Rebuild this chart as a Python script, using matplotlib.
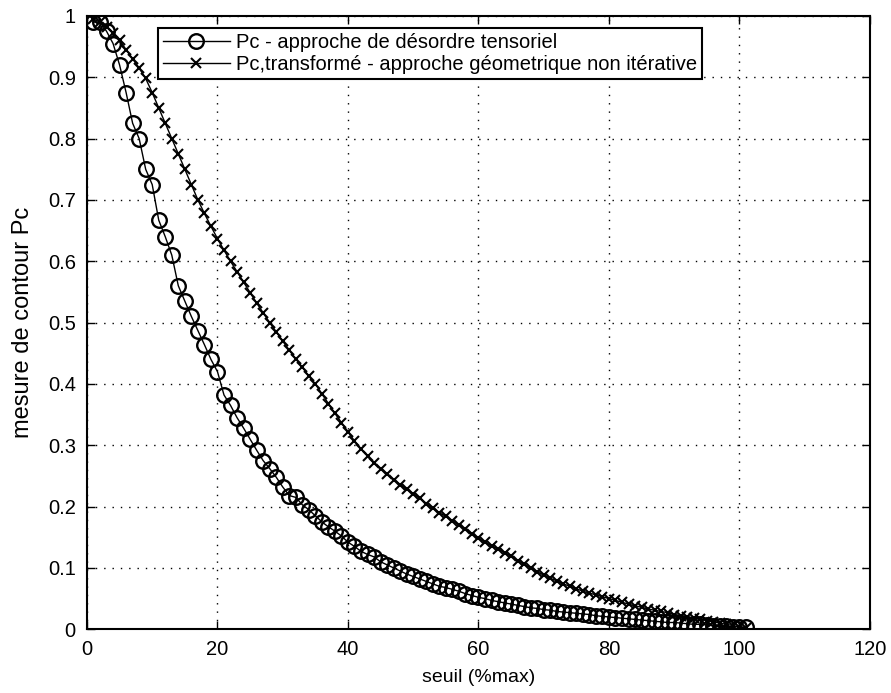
import numpy as np
import matplotlib
matplotlib.use("Agg")
import matplotlib.pyplot as plt

plt.rcParams["font.family"] = ["Liberation Sans", "DejaVu Sans"]

# seuil (%max)
seuil = list(range(1, 102))

# Pc - approche de desordre tensoriel
pc = [0.99, 0.99, 0.975, 0.955, 0.92, 0.875, 0.825, 0.80, 0.75, 0.725,
      0.667, 0.64, 0.61, 0.56, 0.535, 0.51, 0.487, 0.464, 0.44, 0.42,
      0.382, 0.365, 0.345, 0.328, 0.31, 0.292, 0.275, 0.262, 0.248, 0.232,
      0.218, 0.215, 0.203, 0.195, 0.185, 0.175, 0.167, 0.16, 0.152, 0.142,
      0.135, 0.127, 0.122, 0.118, 0.11, 0.105, 0.1, 0.095, 0.09, 0.086,
      0.082, 0.078, 0.074, 0.07, 0.068, 0.065, 0.062, 0.058, 0.055, 0.052,
      0.05, 0.047, 0.045, 0.043, 0.041, 0.039, 0.037, 0.035, 0.034, 0.032,
      0.031, 0.029, 0.028, 0.027, 0.026, 0.025, 0.024, 0.022, 0.021, 0.02,
      0.019, 0.018, 0.017, 0.016, 0.015, 0.014, 0.013, 0.012, 0.011, 0.011,
      0.01, 0.009, 0.008, 0.008, 0.007, 0.006, 0.005, 0.005, 0.004, 0.004,
      0.003]

# Pc,transforme - approche geometrique non iterative
pc_geo = [0.995, 0.99, 0.982, 0.972, 0.96, 0.945, 0.93, 0.915, 0.898, 0.875,
          0.85, 0.825, 0.80, 0.775, 0.75, 0.725, 0.70, 0.678, 0.657, 0.637,
          0.618, 0.60, 0.583, 0.566, 0.549, 0.532, 0.516, 0.50, 0.485, 0.47,
          0.455, 0.441, 0.427, 0.413, 0.40, 0.384, 0.368, 0.352, 0.337, 0.322,
          0.307, 0.294, 0.282, 0.271, 0.262, 0.253, 0.244, 0.236, 0.228, 0.221,
          0.214, 0.205, 0.197, 0.19, 0.184, 0.177, 0.17, 0.163, 0.156, 0.148,
          0.142, 0.136, 0.131, 0.125, 0.119, 0.112, 0.106, 0.1, 0.094, 0.088,
          0.083, 0.079, 0.074, 0.07, 0.066, 0.062, 0.059, 0.056, 0.053, 0.05,
          0.047, 0.044, 0.041, 0.038, 0.036, 0.033, 0.031, 0.029, 0.027, 0.024,
          0.022, 0.02, 0.018, 0.016, 0.014, 0.012, 0.01, 0.008, 0.006, 0.004,
          0.002]

fig = plt.figure(figsize=(8.91, 6.93), dpi=100)
ax = fig.add_axes([0.0976, 0.092, 0.8788, 0.885])

ax.plot(seuil, pc, "-o", color="black", lw=1, ms=10.5, mfc="none", mew=1.7,
        label="Pc - approche de désordre tensoriel")
ax.plot(seuil, pc_geo, "-x", color="black", lw=1, ms=7.5, mew=1.5,
        label="Pc,transformé - approche géometrique non itérative")

ax.set_xlim(0, 120)
ax.set_ylim(0, 1)
ax.set_xticks(np.arange(0, 121, 20))
ax.set_yticks(np.arange(0, 1.01, 0.1))
ax.set_yticklabels(["0", "0.1", "0.2", "0.3", "0.4", "0.5", "0.6", "0.7", "0.8", "0.9", "1"])
ax.grid(True, linestyle=(0, (1, 5)), color="black", lw=1)
ax.tick_params(direction="in", length=6, width=1, top=True, right=True,
               labelsize=14.5)
ax.tick_params(axis="x", pad=8)
ax.tick_params(axis="y", pad=8)
for s in ax.spines.values():
    s.set_linewidth(1.5)

ax.set_xlabel("seuil (%max)", fontsize=14, labelpad=7)
ax.set_ylabel("mesure de contour Pc", fontsize=17)
ax.yaxis.set_label_coords(-0.068, 0.5)

leg = ax.legend(loc="upper left", bbox_to_anchor=(0.091, 0.98), borderaxespad=0,
                fontsize=14.5, fancybox=False, framealpha=1, handlelength=3.3,
                handletextpad=0.3, borderpad=0.25, labelspacing=0.15)
leg.get_frame().set_edgecolor("black")
leg.get_frame().set_linewidth(1.5)

fig.savefig("out.png", dpi=100)
